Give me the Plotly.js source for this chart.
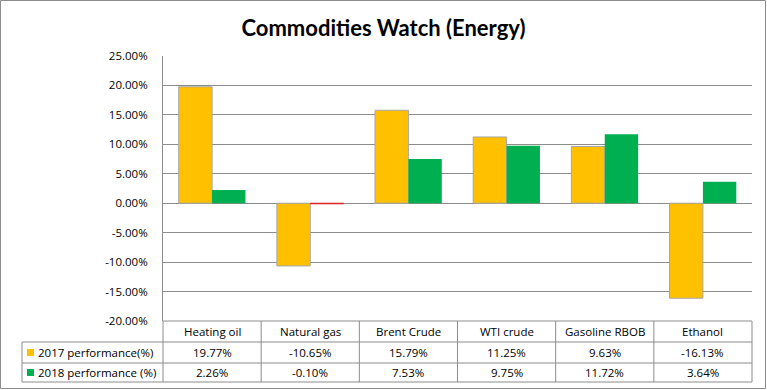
<!DOCTYPE html>
<html>
<head>
<meta charset="utf-8">
<script src="https://cdn.plot.ly/plotly-3.0.1.min.js"></script>
<style>html,body{margin:0;padding:0;background:#fff;}#chart{width:767px;height:390px;}</style>
</head>
<body>
<div id="chart"></div>
<script>
// ---- data ----
const categories = ["Heating oil", "Natural gas", "Brent Crude", "WTI crude", "Gasoline RBOB", "Ethanol"];
const seriesNames = ["2017 performance(%)", "2018 performance (%)"];
const perf2017 = [19.77, -10.65, 15.79, 11.25, 9.63, -16.13];
const perf2018 = [2.26, -0.10, 7.53, 9.75, 11.72, 3.64];
const yTicks = [25, 20, 15, 10, 5, 0, -5, -10, -15, -20];

// ---- layout constants ----
const W = 767, H = 390;
const M = {l: 163, r: 15, t: 56, b: 69};
const PW = W - M.l - M.r, PH = H - M.t - M.b;
const xp = px => (px - M.l) / PW;
const yp = py => (H - M.b - py) / PH;

const YELLOW = '#FFC000', GREEN = '#00B050', RED = '#E0262A';
const GRID = '#8C8C8C';
const FONT = 'Open Sans, Liberation Sans, sans-serif';

const fmt = v => v.toFixed(2) + '%';

const traces = [
  {type: 'bar', x: categories, y: perf2017, name: seriesNames[0],
   marker: {color: YELLOW, line: {color: '#A6A6A6', width: 1}}, hoverinfo: 'none'},
  {type: 'bar', x: categories, y: perf2018, name: seriesNames[1],
   marker: {color: perf2018.map(v => v < 0 ? RED : GREEN),
            line: {color: perf2018.map(v => v < 0 ? RED : 'rgba(0,0,0,0)'), width: 1}}, hoverinfo: 'none'}
];

// table geometry (pixels)
const tTop = 321, r1 = 342, r2 = 363, tBot = 382, legLeft = 22, tRight = W - M.r;
const line = (x0, y0, x1, y1) => ({type: 'line', xref: 'paper', yref: 'paper',
  x0: xp(x0), y0: yp(y0), x1: xp(x1), y1: yp(y1), line: {color: GRID, width: 1}, layer: 'above'});

const shapes = [];
// outer border
shapes.push({type: 'rect', xref: 'paper', yref: 'paper', x0: xp(0.5), x1: xp(765.5), y0: yp(0.5), y1: yp(388.5),
  line: {color: '#8C8C8C', width: 1}, fillcolor: 'rgba(0,0,0,0)', layer: 'below'});
// table horizontal lines
shapes.push(line(M.l, tTop, tRight, tTop));
shapes.push(line(legLeft, r1, tRight, r1));
shapes.push(line(legLeft, r2, tRight, r2));
shapes.push(line(legLeft, tBot, tRight, tBot));
// table vertical lines
shapes.push(line(legLeft, r1, legLeft, tBot));
shapes.push(line(M.l, tTop, M.l, tBot));
const colW = PW / categories.length;
for (let i = 1; i <= categories.length; i++) {
  shapes.push(line(M.l + i * colW, tTop, M.l + i * colW, tBot));
}
// legend keys
const key = (py, c) => ({type: 'rect', xref: 'paper', yref: 'paper', x0: xp(27), x1: xp(34), y0: yp(py - 3.5), y1: yp(py + 3.5),
  line: {width: 0}, fillcolor: c, layer: 'above'});
const row1Y = (r1 + r2) / 2, row2Y = (r2 + tBot) / 2, headY = (tTop + r1) / 2;
shapes.push(key(row1Y, YELLOW));
shapes.push(key(row2Y, GREEN));

const annotations = [];
const tFont = {family: FONT, size: 11.5, color: '#000'};
categories.forEach((c, i) => {
  annotations.push({xref: 'x', yref: 'paper', x: c, y: yp(headY), text: c, showarrow: false, font: tFont, xanchor: 'center', yanchor: 'middle'});
  annotations.push({xref: 'x', yref: 'paper', x: c, y: yp(row1Y), text: fmt(perf2017[i]), showarrow: false, font: tFont, xanchor: 'center', yanchor: 'middle'});
  annotations.push({xref: 'x', yref: 'paper', x: c, y: yp(row2Y), text: fmt(perf2018[i]), showarrow: false, font: tFont, xanchor: 'center', yanchor: 'middle'});
});
annotations.push({xref: 'paper', yref: 'paper', x: xp(36), y: yp(row1Y), text: seriesNames[0], showarrow: false, font: tFont, xanchor: 'left', yanchor: 'middle'});
annotations.push({xref: 'paper', yref: 'paper', x: xp(36), y: yp(row2Y), text: seriesNames[1], showarrow: false, font: tFont, xanchor: 'left', yanchor: 'middle'});

const layout = {
  width: W, height: H,
  margin: M,
  paper_bgcolor: '#fff', plot_bgcolor: '#fff',
  showlegend: false,
  barmode: 'group', bargap: 0.32, bargroupgap: 0,
  title: {text: '<b>Commodities Watch (Energy)</b>', x: 0.5, xanchor: 'center', y: 1 - 28 / H, yanchor: 'middle',
    font: {family: 'Lato, Open Sans, sans-serif', size: 22, color: '#000'}},
  xaxis: {type: 'category', showticklabels: false, showgrid: false, zeroline: false, showline: false, fixedrange: true},
  yaxis: {range: [-20, 25], tickvals: yTicks, ticktext: yTicks.map(fmt), showgrid: true, gridcolor: GRID, gridwidth: 1,
    zeroline: false, showline: true, linecolor: GRID, linewidth: 1, ticks: '', ticklabelstandoff: 12,
    tickfont: {family: FONT, size: 11.5, color: '#000'}, fixedrange: true},
  shapes: shapes,
  annotations: annotations
};

Plotly.newPlot('chart', traces, layout, {displayModeBar: false, staticPlot: true});
</script>
</body>
</html>
